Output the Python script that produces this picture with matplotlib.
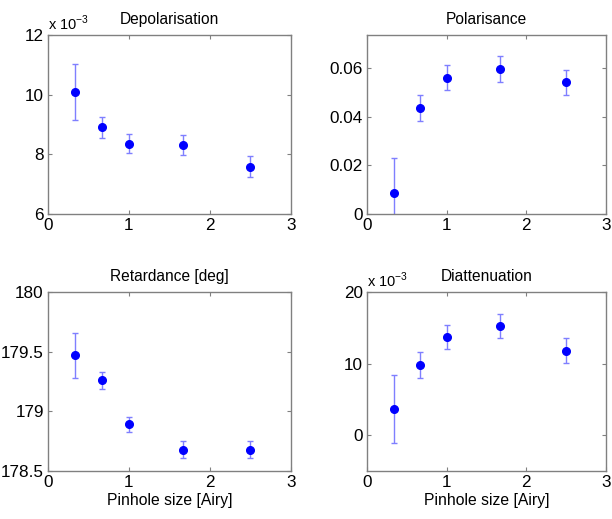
import matplotlib
matplotlib.use('Agg')
import matplotlib.pyplot as plt

plt.rcParams['font.family'] = ['Liberation Sans', 'DejaVu Sans']
plt.rcParams['mathtext.fontset'] = 'custom'
plt.rcParams['mathtext.rm'] = 'Liberation Sans'

# pinhole sizes [Airy]
pinhole = [0.333, 0.667, 1.0, 1.667, 2.5]

# depolarisation (x 1e-3)
depol = [10.09, 8.91, 8.36, 8.31, 7.59]
depol_err = [0.95, 0.35, 0.33, 0.33, 0.35]

# polarisance
polar = [0.0086, 0.0436, 0.0560, 0.0596, 0.0540]
polar_err = [0.0143, 0.0054, 0.0050, 0.0053, 0.0050]

# retardance [deg]
retard = [179.47, 179.26, 178.89, 178.68, 178.68]
retard_err = [0.19, 0.07, 0.065, 0.075, 0.07]

# diattenuation (x 1e-3)
diatt = [3.72, 9.85, 13.75, 15.28, 11.82]
diatt_err = [4.75, 1.8, 1.67, 1.7, 1.75]

x_ticks = [0, 1, 2, 3]

panels = [
    dict(title='Depolarisation', y=depol, err=depol_err, ylim=(6, 12),
         yticks=[6, 8, 10, 12], ylabels=['6', '8', '10', '12'], scale=True,
         pos=[0.0784, 0.5877, 0.397, 0.3449], xlabel=False),
    dict(title='Polarisance', y=polar, err=polar_err, ylim=(0, 0.0735),
         yticks=[0, 0.02, 0.04, 0.06], ylabels=['0', '0.02', '0.04', '0.06'], scale=False,
         pos=[0.5997, 0.5877, 0.3905, 0.3449], xlabel=False),
    dict(title='Retardance [deg]', y=retard, err=retard_err, ylim=(178.5, 180),
         yticks=[178.5, 179, 179.5, 180], ylabels=['178.5', '179', '179.5', '180'], scale=False,
         pos=[0.0784, 0.0925, 0.397, 0.3449], xlabel=True),
    dict(title='Diattenuation', y=diatt, err=diatt_err, ylim=(-5, 20),
         yticks=[0, 10, 20], ylabels=['0', '10', '20'], scale=True,
         pos=[0.5997, 0.0925, 0.3905, 0.3449], xlabel=True),
]

fig = plt.figure(figsize=(6.12, 5.19), dpi=100)

for p in panels:
    ax = fig.add_axes(p['pos'])
    ax.errorbar(pinhole, p['y'], yerr=p['err'], fmt='none', ecolor='#7f7fff',
                elinewidth=1, capsize=2.5, capthick=1)
    ax.plot(pinhole, p['y'], 'o', color='#0000ff', markersize=5.5, zorder=3)
    ax.set_xlim(0, 3)
    ax.set_ylim(*p['ylim'])
    ax.set_xticks(x_ticks)
    ax.set_xticklabels([str(t) for t in x_ticks])
    ax.set_yticks(p['yticks'])
    ax.set_yticklabels(p['ylabels'])
    ax.tick_params(direction='in', length=3, width=0.8, color='#808080',
                   top=True, right=True, labelsize=12.3, pad=3)
    for s in ax.spines.values():
        s.set_color('#808080')
        s.set_linewidth(1)
    ax.set_title(p['title'], fontsize=11.2, pad=8)
    if p['scale']:
        ax.text(0.0, 1.01, r'x 10$^{-3}$', transform=ax.transAxes,
                fontsize=10.5, ha='left', va='bottom')
    if p['xlabel']:
        ax.set_xlabel('Pinhole size [Airy]', fontsize=11.3, labelpad=2)

fig.savefig('out.png', dpi=100)
